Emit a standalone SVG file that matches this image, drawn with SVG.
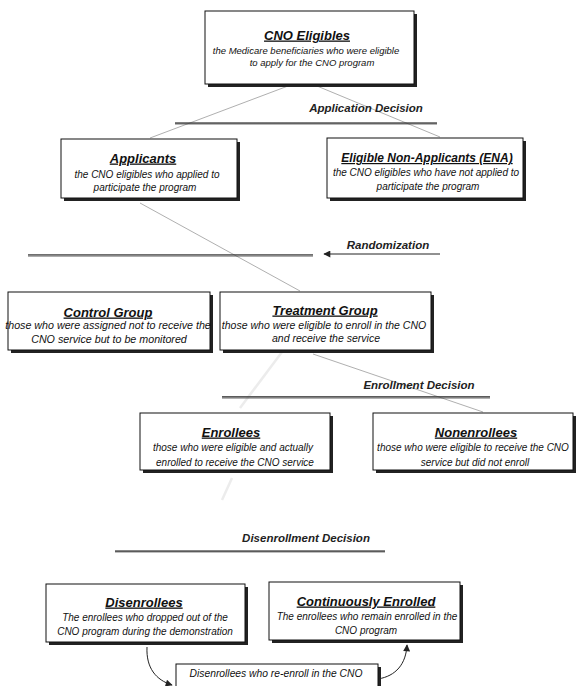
<svg xmlns="http://www.w3.org/2000/svg" width="584" height="686" viewBox="0 0 584 686">
<style>
text{font-family:"Liberation Sans",Arial,sans-serif;font-style:italic;fill:#111;text-anchor:middle}
.t{font-size:13px;font-weight:bold;text-decoration:underline}
.d{font-size:10px}
.lbl{font-size:11.5px;font-weight:bold;fill:#222}
.box{fill:#fff;stroke:#111;stroke-width:1}
.sh{fill:#222}
.con{stroke:#9a9a9a;stroke-width:0.8;fill:none}
.faint{stroke:#ececec;stroke-width:2.5;fill:none}
.arr{stroke:#222;stroke-width:1;fill:none}
</style>
<defs>
<pattern id="zz" width="1.6" height="2.5" patternUnits="userSpaceOnUse">
<path d="M0,0 L0.8,2.5 L1.6,0" stroke="#333" stroke-width="0.7" fill="none"/>
</pattern>
<marker id="ah" viewBox="0 0 10 10" refX="9" refY="5" markerWidth="8" markerHeight="7" orient="auto" markerUnits="userSpaceOnUse">
<path d="M0,0 L10,5 L0,10 z" fill="#222"/>
</marker>
</defs>
<rect width="584" height="686" fill="#fff"/>

<g id="connectors">
<line class="con" x1="288" y1="86" x2="150" y2="138"/>
<line class="con" x1="317" y1="86" x2="440" y2="137"/>
<line class="con" x1="140" y1="203" x2="300" y2="291"/>
<line class="con" x1="313" y1="354" x2="483" y2="412"/>
<line class="faint" x1="282" y1="352" x2="240" y2="408"/>
<line class="faint" x1="232" y1="478" x2="222" y2="500"/>
<line class="arr" x1="440" y1="254" x2="324" y2="254" marker-end="url(#ah)"/>
<path class="arr" d="M147,647 C146,668 156,680 172,685" marker-end="url(#ah)"/>
<path class="arr" d="M378,679 C396,676 406,664 407,645" marker-end="url(#ah)"/>
</g>

<g id="decisions">
<text class="lbl" x="366" y="112">Application Decision</text>
<rect x="175" y="122" width="262" height="2.5" fill="url(#zz)"/>
<text class="lbl" x="388" y="249">Randomization</text>
<rect x="28" y="254" width="285" height="2.5" fill="url(#zz)"/>
<text class="lbl" x="419" y="389">Enrollment Decision</text>
<rect x="222" y="396" width="268" height="2.5" fill="url(#zz)"/>
<text class="lbl" x="306" y="542">Disenrollment Decision</text>
<rect x="115" y="550" width="270" height="2.5" fill="url(#zz)"/>
</g>

<g id="cno-eligibles">
<rect class="sh" x="208" y="14" width="209" height="73"/>
<rect class="box" x="205" y="11" width="209" height="73"/>
<text class="t" x="307" y="39.5">CNO Eligibles</text>
<text class="d" style="font-size:9.5px" x="306" y="53.5">the Medicare beneficiaries who were eligible</text>
<text class="d" style="font-size:9.5px" x="312" y="65.5">to apply for the CNO program</text>
</g>

<g id="applicants">
<rect class="sh" x="64" y="142" width="176" height="59"/>
<rect class="box" x="61" y="139" width="176" height="59"/>
<text class="t" x="143" y="162.5">Applicants</text>
<text class="d" x="147" y="177.5">the CNO eligibles who applied to</text>
<text class="d" x="145" y="190.5">participate the program</text>
</g>

<g id="eligible-non-applicants">
<rect class="sh" x="330" y="141" width="196" height="60"/>
<rect class="box" x="327" y="138" width="196" height="60"/>
<text class="t" style="font-size:12px" x="427" y="162">Eligible Non-Applicants (ENA)</text>
<text class="d" x="426" y="175.5">the CNO eligibles who have not applied to</text>
<text class="d" x="428" y="189.5">participate the program</text>
</g>

<g id="control-group">
<rect class="sh" x="11" y="295" width="202" height="58"/>
<rect class="box" x="8" y="292" width="202" height="58"/>
<text class="t" x="108" y="316.5">Control Group</text>
<text class="d" style="font-size:10.7px" x="108" y="328.8">those who were assigned not to receive the</text>
<text class="d" style="font-size:10.7px" x="109" y="342.8">CNO service but to be monitored</text>
</g>

<g id="treatment-group">
<rect class="sh" x="223" y="295" width="211" height="58"/>
<rect class="box" x="220" y="292" width="211" height="58"/>
<text class="t" x="325" y="314.5">Treatment Group</text>
<text class="d" style="font-size:10.5px" x="324" y="328.8">those who were eligible to enroll in the CNO</text>
<text class="d" style="font-size:10.5px" x="326" y="341.8">and receive the service</text>
</g>

<g id="enrollees">
<rect class="sh" x="143" y="416" width="190" height="57"/>
<rect class="box" x="140" y="413" width="190" height="57"/>
<text class="t" x="231" y="436.5">Enrollees</text>
<text class="d" x="233" y="450.5">those who were eligible and actually</text>
<text class="d" x="235" y="465.5">enrolled to receive the CNO service</text>
</g>

<g id="nonenrollees">
<rect class="sh" x="376" y="416" width="200" height="57"/>
<rect class="box" x="373" y="413" width="200" height="57"/>
<text class="t" x="476" y="436.5">Nonenrollees</text>
<text class="d" x="473" y="450.5">those who were eligible to receive the CNO</text>
<text class="d" x="475" y="465.5">service but did not enroll</text>
</g>

<g id="disenrollees">
<rect class="sh" x="49" y="587" width="199" height="58"/>
<rect class="box" x="46" y="584" width="199" height="58"/>
<text class="t" x="144" y="606.5">Disenrollees</text>
<text class="d" x="145" y="620.5">The enrollees who dropped out of the</text>
<text class="d" x="145" y="634.5">CNO program during the demonstration</text>
</g>

<g id="continuously-enrolled">
<rect class="sh" x="272" y="585" width="191" height="58"/>
<rect class="box" x="269" y="582" width="191" height="58"/>
<text class="t" x="366" y="605.5">Continuously Enrolled</text>
<text class="d" x="367" y="619.5">The enrollees who remain enrolled in the</text>
<text class="d" x="366" y="633.5">CNO program</text>
</g>

<g id="re-enroll">
<rect class="sh" x="179" y="667" width="202" height="30"/>
<rect class="box" x="176" y="664" width="202" height="30"/>
<text class="d" style="font-size:10.3px" x="276" y="677">Disenrollees who re-enroll in the CNO</text>
</g>
</svg>
